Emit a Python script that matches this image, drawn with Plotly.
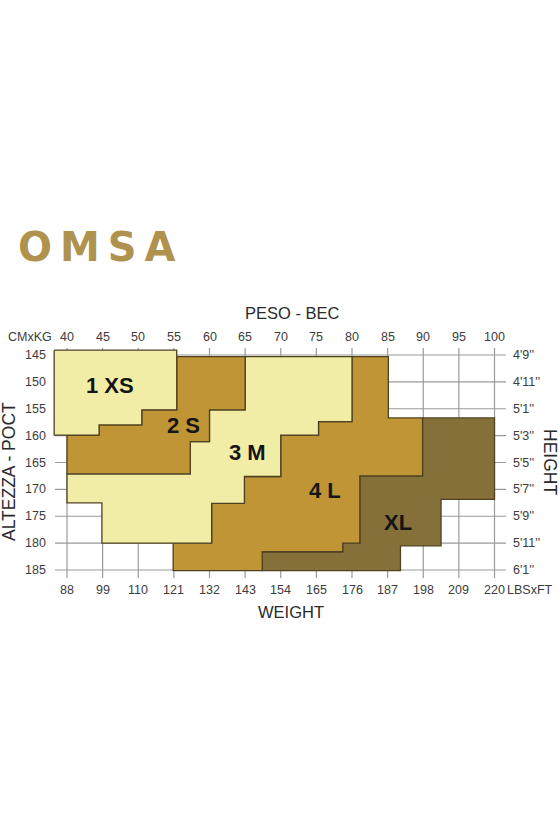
import plotly.graph_objects as go

# ---------------- data ----------------
kg_ticks = [40, 45, 50, 55, 60, 65, 70, 75, 80, 85, 90, 95, 100]
lbs_labels = ["88", "99", "110", "121", "132", "143", "154", "165", "176", "187", "198", "209", "220"]
cm_ticks = [145, 150, 155, 160, 165, 170, 175, 180, 185]
ft_labels = ["4'9''", "4'11''", "5'1''", "5'3''", "5'5''", "5'7''", "5'9''", "5'11''", "6'1''"]

sizes = ["1 XS", "2 S", "3 M", "4 L", "XL"]

xs_kg = [38.2, 55.4, 55.4, 50.5, 50.5, 44.5, 44.5, 38.2]
xs_cm = [144.1, 144.1, 155.2, 155.2, 158.0, 158.0, 159.9, 159.9]

s_kg = [55.4, 65, 65, 60, 60, 57.3, 57.3, 40, 40, 44.5, 44.5, 50.5, 50.5, 55.4]
s_cm = [145.3, 145.3, 155.2, 155.2, 161.1, 161.1, 167.1, 167.1, 159.9, 159.9, 158.0, 158.0, 155.2, 155.2]

m_kg = [65, 80, 80, 75.3, 75.3, 70, 70, 64.9, 64.9, 60.3, 60.3, 44.9, 44.9, 40, 40, 57.3, 57.3, 60, 60, 65]
m_cm = [145.3, 145.3, 157.4, 157.4, 159.9, 159.9, 167.6, 167.6, 172.6, 172.6, 180, 180, 172.5, 172.5,
        167.1, 167.1, 161.1, 161.1, 155.2, 155.2]

l_kg = [80, 85.1, 85.1, 89.9, 89.9, 81.1, 81.1, 78.7, 78.7, 67.4, 67.4, 54.9, 54.9, 60.3, 60.3, 64.9,
        64.9, 70, 70, 75.3, 75.3, 80]
l_cm = [145.3, 145.3, 156.7, 156.7, 167.5, 167.5, 180, 180, 181.6, 181.6, 185.1, 185.1, 180, 180, 172.6,
        172.6, 167.6, 167.6, 159.9, 159.9, 157.4, 157.4]

xl_kg = [89.9, 100, 100, 92.5, 92.5, 86.8, 86.8, 67.4, 67.4, 78.7, 78.7, 81.1, 81.1, 89.9]
xl_cm = [156.7, 156.7, 171.85, 171.85, 180.5, 180.5, 185.1, 185.1, 181.6, 181.6, 180, 180, 167.5, 167.5]

label_kg = [46.0, 56.3, 65.4, 76.2, 86.5]
label_cm = [150.6, 158.2, 163.05, 170.3, 176.1]

# ---------------- style ----------------
PALE = "#f1eda6"
GOLD = "#bf9536"
OLIVE = "#86703a"
EDGE = "#4f4220"
GRID = "#9a9a9a"
TXT = "#3c3c3c"
FONT = "Liberation Sans, Arial, sans-serif"

W, H = 560, 840
# axis ranges chosen so that 40kg->67px, 100kg->494.5px, 145cm->355px, 185cm->570px
KG0, KGPX = 40, 7.125
CM0, CMPX = 145, 5.375
x_range = [KG0 - 67 / KGPX, KG0 + (W - 67) / KGPX]
y_range = [CM0 + (H - 355) / CMPX, CM0 - 355 / CMPX]


def kg_at(px):
    return KG0 + (px - 67) / KGPX


def cm_at(py):
    return CM0 + (py - 355) / CMPX


fig = go.Figure()

# grid lines with outside tick extensions
gx, gy = [], []
for k in kg_ticks:
    gx += [k, k, None]
    gy += [cm_at(348), cm_at(578), None]
for c in cm_ticks:
    gx += [kg_at(55), kg_at(506), None]
    gy += [c, c, None]
fig.add_trace(go.Scatter(x=gx, y=gy, mode="lines", line=dict(color=GRID, width=1.2),
                         hoverinfo="skip", showlegend=False))

regions = [(xl_kg, xl_cm, OLIVE), (l_kg, l_cm, GOLD), (m_kg, m_cm, PALE),
           (s_kg, s_cm, GOLD), (xs_kg, xs_cm, PALE)]
for xs, ys, col in regions:
    fig.add_trace(go.Scatter(x=xs + [xs[0]], y=ys + [ys[0]], mode="lines", fill="toself",
                             fillcolor=col, line=dict(color=EDGE, width=1.3),
                             hoverinfo="skip", showlegend=False))

ann = []
# size labels
for t, x, y in zip(sizes, label_kg, label_cm):
    ann.append(dict(x=x, y=y, xref="x", yref="y", text="<b>%s</b>" % t, showarrow=False,
                    xanchor="center", yanchor="middle",
                    font=dict(family=FONT, size=22, color="#151515")))
# top kg labels
for k in kg_ticks:
    ann.append(dict(x=k, y=cm_at(337), xref="x", yref="y", text=str(k), showarrow=False,
                    xanchor="center", yanchor="middle",
                    font=dict(family=FONT, size=12.5, color=TXT)))
ann.append(dict(x=kg_at(30), y=cm_at(337), xref="x", yref="y", text="CMxKG", showarrow=False,
                xanchor="center", yanchor="middle",
                font=dict(family=FONT, size=12.5, color=TXT)))
# bottom lbs labels
for k, t in zip(kg_ticks, lbs_labels):
    ann.append(dict(x=k, y=cm_at(590), xref="x", yref="y", text=t, showarrow=False,
                    xanchor="center", yanchor="middle",
                    font=dict(family=FONT, size=12.5, color=TXT)))
ann.append(dict(x=kg_at(529.5), y=cm_at(590), xref="x", yref="y", text="LBSxFT", showarrow=False,
                xanchor="center", yanchor="middle",
                font=dict(family=FONT, size=12.5, color=TXT)))
# left cm labels
for c in cm_ticks:
    ann.append(dict(x=kg_at(48), y=c, xref="x", yref="y", text=str(c), showarrow=False,
                    xanchor="right", yanchor="middle", font=dict(family=FONT, size=12.5, color=TXT)))
# right ft labels
for c, t in zip(cm_ticks, ft_labels):
    ann.append(dict(x=kg_at(511), y=c, xref="x", yref="y", text=t, showarrow=False,
                    xanchor="left", yanchor="middle", font=dict(family=FONT, size=12.5, color=TXT)))


def paper(px, py):
    return px / W, 1 - py / H


for text, px, py, size, ang in [("PESO - BEC", 292.5, 312.5, 16.5, 0),
                                 ("WEIGHT", 290.5, 611.5, 16.5, 0),
                                 ("ALTEZZA - POCT", 9, 472, 17.5, -90),
                                 ("HEIGHT", 550, 462, 17.5, 90)]:
    x, y = paper(px, py)
    ann.append(dict(x=x, y=y, xref="paper", yref="paper", text=text, showarrow=False,
                    xanchor="center", yanchor="middle", textangle=ang,
                    font=dict(family=FONT, size=size, color="#2a2a2a")))

# logo
x, y = paper(97, 247)
ann.append(dict(x=x, y=y, xref="paper", yref="paper",
                text="<b>O\u2009M\u2009S\u2009A</b>", showarrow=False,
                xanchor="center", yanchor="middle",
                font=dict(family="DejaVu Sans, sans-serif", size=40, color="#b0924f")))

fig.update_layout(
    width=W, height=H, margin=dict(l=0, r=0, t=0, b=0),
    paper_bgcolor="white", plot_bgcolor="white",
    xaxis=dict(range=x_range, visible=False, fixedrange=True),
    yaxis=dict(range=y_range, visible=False, fixedrange=True),
    annotations=ann, showlegend=False,
)

fig.write_html("out.html")
